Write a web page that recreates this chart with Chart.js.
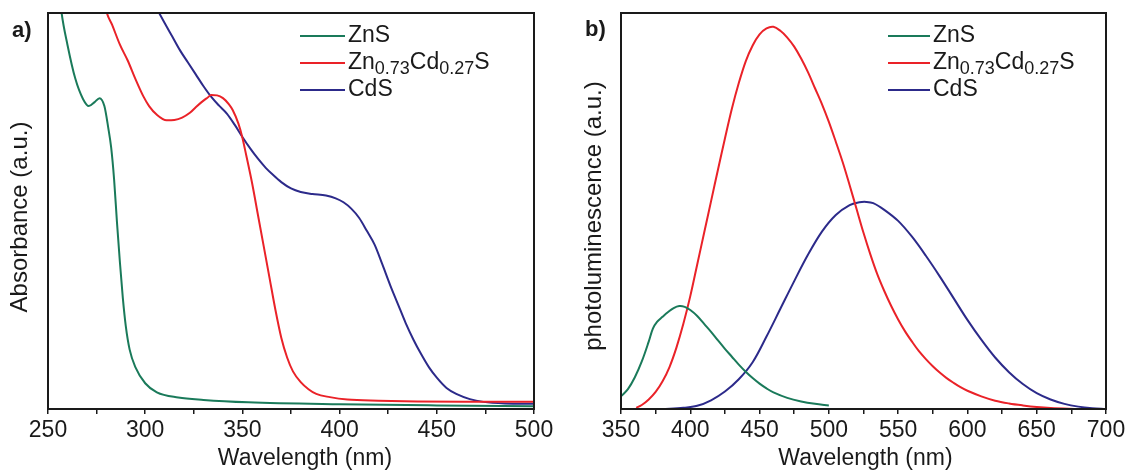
<!DOCTYPE html>
<html lang="en">
<head>
<meta charset="UTF-8">
<title>Absorbance and photoluminescence of ZnS, Zn0.73Cd0.27S and CdS</title>
<script src="https://cdn.jsdelivr.net/npm/chart.js"></script>
<style>
body {
margin: 0;
background: #fff;
}
.panel {
position: absolute;
top: 0;
}
#panelA { left: 0; }
#panelB { left: 570px; }
</style>
</head>
<body>

<div class="panel" id="panelA"><canvas id="absChart" width="560" height="475"></canvas></div>
<div class="panel" id="panelB"><canvas id="plChart" width="566" height="475"></canvas></div>

<script>
// series names
const seriesNames = ['ZnS', 'Zn0.73Cd0.27S', 'CdS'];
const seriesColors = ['#1a7a5a', '#ea2228', '#2c2a8a'];

// a) absorbance, wavelength (nm) / value (a.u., 0-100)
const absZnSNm = [255, 257, 260, 264, 268, 271, 274, 276.5, 279, 281, 282.5, 284, 285.5, 287, 288.5, 290, 292, 295, 300, 306, 317, 330, 353, 400, 450, 500];
const absZnS = [109, 100, 92, 83.5, 78.3, 76.5, 77.5, 78.5, 76.5, 71, 66, 58, 47, 37, 28, 21, 15, 10.5, 6.5, 4.2, 2.9, 2.3, 1.7, 1.2, 0.9, 0.7];

const absMixNm = [278, 280, 283, 287, 291, 295, 299, 302, 306, 311, 315, 319, 323, 326, 329, 332, 334, 337, 340, 343, 345, 348, 350, 352, 355, 358, 361, 364, 367, 370, 373, 376, 380, 384, 388, 395, 404, 420, 440, 464, 500];
const absMix = [106, 100.5, 97, 92, 88, 83.3, 79, 76.5, 74.3, 72.9, 73, 73.6, 74.8, 76.2, 77.5, 78.6, 79.3, 79.2, 78.5, 77, 75.5, 72, 68.5, 64, 57, 49, 41, 33, 25, 18, 13, 9.5, 6.8, 5, 3.8, 3, 2.4, 2.1, 1.9, 1.8, 1.8];

const absCdSNm = [303, 306.6, 310, 314, 318, 322, 326, 330, 334, 338, 342, 346, 350, 354, 358, 362, 366, 370, 375, 380, 386, 393, 398, 402, 406, 410, 414, 418, 422, 426, 430, 434, 438, 442, 446, 450, 455, 460, 467, 474, 485, 500];
const absCdS = [103.7, 100.5, 97.5, 94, 90.5, 87.5, 84.5, 81.5, 78.8, 76.6, 74.6, 71.8, 68.7, 65.8, 63.2, 60.9, 59, 57.3, 55.7, 54.8, 54.3, 53.9, 53.2, 52.2, 50.6, 48.3, 45, 41.5, 36.5, 31.3, 26.5, 21.7, 17.5, 13.8, 10.5, 7.9, 5.3, 3.8, 2.5, 1.8, 1.4, 1.3];

// b) photoluminescence
const plZnSNm = [350, 355, 360, 365, 370, 373, 376, 380, 384, 388, 392, 396, 400, 405, 410, 415, 420, 425, 430, 435, 440, 445, 450, 455, 460, 470, 480, 490, 500];
const plZnS = [3.2, 5, 8, 12, 17, 20.3, 22, 23.3, 24.5, 25.5, 26, 25.8, 25, 23.5, 21.5, 19.5, 17.3, 15.2, 13.2, 11.2, 9.4, 7.8, 6.4, 5.2, 4.2, 2.8, 1.9, 1.3, 0.9];

const plMixNm = [361, 365, 370, 375, 380, 385, 390, 395, 400, 405, 410, 415, 420, 425, 430, 435, 440, 445, 450, 455, 460, 465, 470, 475, 480, 485, 490, 495, 500, 505, 510, 515, 520, 525, 530, 535, 540, 545, 550, 555, 560, 565, 570, 575, 580, 585, 590, 595, 600, 610, 620, 630, 640, 650, 660, 680];
const plMix = [0.3, 1, 2.4, 4.3, 7, 10.6, 15.5, 21.5, 28.5, 36.5, 44.5, 52.5, 60.5, 68.3, 75.8, 82.3, 87.8, 91.8, 94.6, 96.1, 96.5, 95.5, 93.8, 91.5, 88.5, 85, 81, 77, 72.5, 67.5, 62.3, 56.5, 50.5, 44.5, 39, 34, 29.8, 26, 22.6, 19.6, 17, 14.6, 12.6, 10.8, 9.2, 7.8, 6.6, 5.5, 4.6, 3.2, 2.1, 1.4, 0.9, 0.5, 0.25, 0];

const plCdSNm = [380, 395, 405, 415, 425, 435, 445, 455, 465, 475, 485, 495, 505, 515, 522, 527, 532, 540, 550, 560, 570, 580, 590, 600, 610, 620, 630, 640, 650, 660, 670, 680, 690, 700];
const plCdS = [0, 0.3, 0.8, 2.2, 4.4, 7.5, 11.8, 18.3, 25.3, 32.3, 39, 44.8, 49, 51.5, 52.2, 52.3, 52, 50.3, 47.5, 43.5, 38.7, 33.5, 28, 22.5, 17.5, 13, 9.3, 6.3, 4, 2.4, 1.3, 0.6, 0.2, 0];

const FONT = '"Liberation Sans", Arial, Helvetica, sans-serif';
Chart.defaults.font.family = FONT;
Chart.defaults.color = '#1a1a1a';

const toPoints = (xs, ys) => xs.map((x, i) => ({x: x, y: ys[i]}));

// smooth = true uses bezier tension, otherwise monotone cubic (no overshoot)
const makeDatasets = (pairs, smooth) => pairs.map((p, i) => ({
label: seriesNames[i],
data: toPoints(p[0], p[1]),
borderColor: seriesColors[i],
borderWidth: 2,
pointRadius: 0,
showLine: true,
fill: false,
tension: smooth ? 0.35 : 0,
cubicInterpolationMode: smooth ? 'default' : 'monotone'
}));

// frame box, axis titles, panel tag and legend with subscripts
const frameLegend = {
id: 'frameLegend',
afterDraw(chart, args, opts) {
const {ctx, chartArea: a} = chart;
ctx.save();
ctx.strokeStyle = '#1a1a1a';
ctx.lineWidth = 2;
ctx.strokeRect(a.left, a.top, a.right - a.left, a.bottom - a.top);

ctx.fillStyle = '#1a1a1a';
ctx.textBaseline = 'middle';
ctx.textAlign = 'center';
ctx.font = '23px ' + FONT;
ctx.fillText(opts.xTitle, (a.left + a.right) / 2 + opts.xTitleShift, opts.xTitleY);
ctx.save();
ctx.translate(opts.yTitleX, (a.top + a.bottom) / 2 + opts.yTitleShift);
ctx.rotate(-Math.PI / 2);
ctx.font = '24px ' + FONT;
ctx.fillText(opts.yTitle, 0, 0);
ctx.restore();

ctx.textAlign = 'left';
ctx.font = 'bold 22px ' + FONT;
ctx.fillText(opts.tag, opts.tagX, opts.tagY);

chart.data.datasets.forEach((ds, i) => {
const y = opts.y + i * opts.rowH;
ctx.strokeStyle = ds.borderColor;
ctx.lineWidth = 2;
ctx.beginPath();
ctx.moveTo(opts.x, y);
ctx.lineTo(opts.x + opts.lineLen, y);
ctx.stroke();
let x = opts.x + opts.lineLen + 3;
ds.label.split(/(\d+\.\d+)/).forEach((part, k) => {
if (!part) return;
const sub = k % 2 === 1;
ctx.font = (sub ? '18px ' : '23px ') + FONT;
ctx.fillText(part, x, y + (sub ? 6 : 0));
x += ctx.measureText(part).width;
});
});
ctx.restore();
}
};

const makeOptions = (xMin, xMax, yWidth, padRight, legend) => ({
responsive: false,
animation: false,
layout: {padding: {top: 13, right: padRight, left: 0, bottom: 0}},
plugins: {
legend: {display: false},
tooltip: {enabled: false},
frameLegend: legend
},
scales: {
x: {
type: 'linear',
min: xMin,
max: xMax,
afterFit: (s) => { s.height = 66; },
border: {display: false},
grid: {drawOnChartArea: false, drawTicks: true, tickLength: 5, color: '#1a1a1a', lineWidth: 1.5},
ticks: {
stepSize: 25,
autoSkip: false,
maxRotation: 0,
padding: 3,
font: {size: 23},
callback: (v) => (v % 50 === 0 ? v : '')
}
},
y: {
min: 0,
max: 100,
afterFit: (s) => { s.width = yWidth; },
border: {display: false},
grid: {display: false},
ticks: {display: false}
}
}
});

new Chart(document.getElementById('absChart'), {
type: 'scatter',
data: {datasets: makeDatasets([[absZnSNm, absZnS], [absMixNm, absMix], [absCdSNm, absCdS]], false)},
options: makeOptions(250, 500, 48, 26, {
tag: 'a)', tagX: 12, tagY: 31, x: 300, y: 36, rowH: 27, lineLen: 45,
xTitle: 'Wavelength (nm)', xTitleShift: 14, xTitleY: 459,
yTitle: 'Absorbance (a.u.)', yTitleX: 20, yTitleShift: 6
}),
plugins: [frameLegend]
});

new Chart(document.getElementById('plChart'), {
type: 'scatter',
data: {datasets: makeDatasets([[plZnSNm, plZnS], [plMixNm, plMix], [plCdSNm, plCdS]], true)},
options: makeOptions(350, 700, 51, 30, {
tag: 'b)', tagX: 15, tagY: 30, x: 318, y: 36, rowH: 27, lineLen: 42,
xTitle: 'Wavelength (nm)', xTitleShift: 2, xTitleY: 459,
yTitle: 'photoluminescence (a.u.)', yTitleX: 24, yTitleShift: 5
}),
plugins: [frameLegend]
});
</script>

</body>
</html>
